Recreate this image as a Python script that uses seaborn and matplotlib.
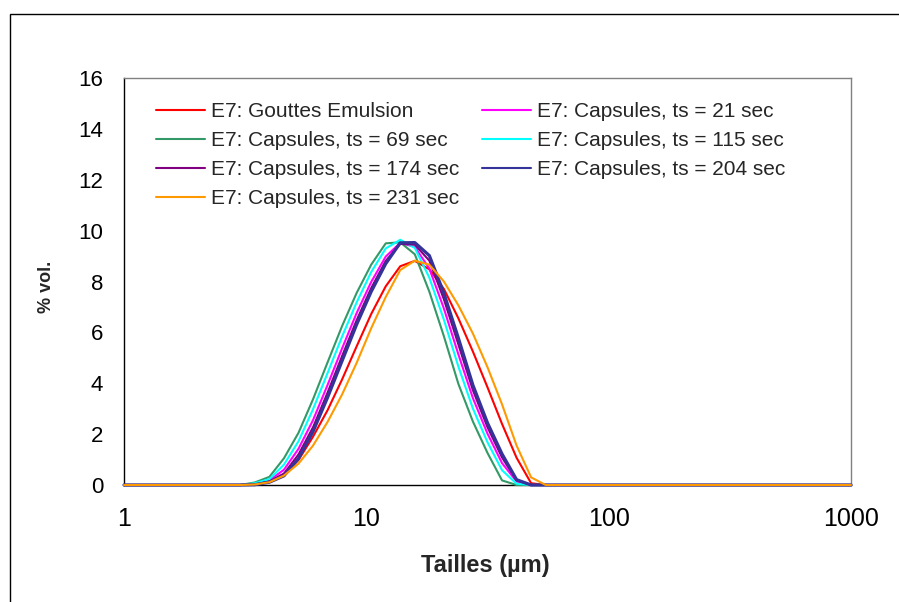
import numpy as np
import pandas as pd
import matplotlib
matplotlib.use("Agg")
import matplotlib.pyplot as plt
from matplotlib.patches import Rectangle
from matplotlib.ticker import MultipleLocator, LogLocator, FuncFormatter, NullFormatter
import seaborn as sns

# tailles des classes (µm), pas log de 0.06 decade
tailles = [1.000, 1.148, 1.318, 1.514, 1.738, 1.995, 2.291, 2.630, 3.020, 3.467,
           3.981, 4.571, 5.248, 6.026, 6.918, 7.943, 9.120, 10.471, 12.023, 13.804,
           15.849, 18.197, 20.893, 23.988, 27.542, 31.623, 36.308, 41.687, 47.863, 54.954,
           63.096, 72.444, 83.176, 95.499, 109.648, 125.893, 144.544, 165.959, 190.546, 218.776,
           251.189, 288.403, 331.131, 380.189, 436.516, 501.187, 575.440, 660.693, 758.578, 870.964,
           1000.0]

gouttes = [0, 0, 0, 0, 0, 0, 0, 0, 0, 0.03,
           0.12, 0.42, 0.98, 1.90, 2.94, 4.15, 5.45, 6.72, 7.81, 8.60,
           8.81, 8.48, 7.71, 6.55, 5.24, 3.84, 2.40, 1.07, 0.07, 0,
           0, 0, 0, 0, 0, 0, 0, 0, 0, 0,
           0, 0, 0, 0, 0, 0, 0, 0, 0, 0,
           0]
caps_21 = [0, 0, 0, 0, 0, 0, 0, 0, 0, 0.04,
           0.18, 0.60, 1.42, 2.55, 3.93, 5.37, 6.76, 7.98, 8.98, 9.52,
           9.36, 8.51, 6.94, 5.13, 3.41, 2.02, 0.86, 0.14, 0, 0,
           0, 0, 0, 0, 0, 0, 0, 0, 0, 0,
           0, 0, 0, 0, 0, 0, 0, 0, 0, 0,
           0]
caps_69 = [0, 0, 0, 0, 0, 0, 0, 0, 0, 0.10,
           0.32, 1.05, 2.05, 3.37, 4.82, 6.25, 7.55, 8.66, 9.50, 9.54,
           9.07, 7.60, 5.85, 3.97, 2.49, 1.26, 0.18, 0, 0, 0,
           0, 0, 0, 0, 0, 0, 0, 0, 0, 0,
           0, 0, 0, 0, 0, 0, 0, 0, 0, 0,
           0]
caps_115 = [0, 0, 0, 0, 0, 0, 0, 0, 0, 0.07,
            0.23, 0.80, 1.72, 2.98, 4.40, 5.84, 7.18, 8.37, 9.30, 9.64,
            9.32, 8.15, 6.50, 4.65, 3.00, 1.68, 0.58, 0.05, 0, 0,
            0, 0, 0, 0, 0, 0, 0, 0, 0, 0,
            0, 0, 0, 0, 0, 0, 0, 0, 0, 0,
            0]
caps_174 = [0, 0, 0, 0, 0, 0, 0, 0, 0, 0.02,
            0.14, 0.45, 1.20, 2.27, 3.63, 5.07, 6.48, 7.74, 8.81, 9.48,
            9.45, 8.82, 7.30, 5.52, 3.72, 2.27, 1.08, 0.18, 0, 0,
            0, 0, 0, 0, 0, 0, 0, 0, 0, 0,
            0, 0, 0, 0, 0, 0, 0, 0, 0, 0,
            0]
caps_204 = [0, 0, 0, 0, 0, 0, 0, 0, 0, 0.01,
            0.11, 0.36, 1.04, 2.10, 3.44, 4.88, 6.31, 7.60, 8.70, 9.52,
            9.53, 9.02, 7.54, 5.77, 3.92, 2.44, 1.22, 0.21, 0, 0,
            0, 0, 0, 0, 0, 0, 0, 0, 0, 0,
            0, 0, 0, 0, 0, 0, 0, 0, 0, 0,
            0]
caps_231 = [0, 0, 0, 0, 0, 0, 0, 0, 0, 0.02,
            0.11, 0.37, 0.84, 1.55, 2.48, 3.56, 4.80, 6.16, 7.39, 8.45,
            8.82, 8.66, 8.00, 7.06, 5.95, 4.63, 3.17, 1.55, 0.30, 0,
            0, 0, 0, 0, 0, 0, 0, 0, 0, 0,
            0, 0, 0, 0, 0, 0, 0, 0, 0, 0,
            0]

noms = ["E7: Gouttes Emulsion", "E7: Capsules, ts = 21 sec", "E7: Capsules, ts = 69 sec",
        "E7: Capsules, ts = 115 sec", "E7: Capsules, ts = 174 sec", "E7: Capsules, ts = 204 sec",
        "E7: Capsules, ts = 231 sec"]
series = [gouttes, caps_21, caps_69, caps_115, caps_174, caps_204, caps_231]
couleurs = ["#FF0000", "#FF00FF", "#339966", "#00FFFF", "#800080", "#333399", "#FF9900"]
epaisseurs = [1.5, 1.5, 1.5, 1.5, 1.5, 2.3, 1.5]

df = pd.DataFrame({"taille": np.tile(tailles, len(series)),
                   "vol": np.concatenate(series),
                   "serie": np.repeat(noms, len(tailles))})

sns.set_style("white")
plt.rcParams['font.family'] = ['Liberation Sans', 'DejaVu Sans']

fig = plt.figure(figsize=(8.99, 6.02), dpi=100)
ax = fig.add_axes([124/899, 1-485/602, 727/899, 407/602])

# cadre exterieur (coupe a droite et en bas)
fig.add_artist(Rectangle((10/899, -0.2), 1.5, (1-14/602)+0.2, transform=fig.transFigure,
                         fill=False, ec='black', lw=1.0))

lignes = {}
for nom, c, lw in zip(noms, couleurs, epaisseurs):
    d = df[df.serie == nom]
    sns.lineplot(data=d, x="taille", y="vol", color=c, lw=lw, ax=ax, label=nom,
                 sort=False, zorder=3, clip_on=False)
    lignes[nom] = ax.lines[-1]

ax.set_xscale('log')
ax.set_xlim(1, 1000)
ax.set_ylim(0, 16)
ax.yaxis.set_major_locator(MultipleLocator(2))
ax.yaxis.set_minor_locator(MultipleLocator(0.5))
ax.xaxis.set_major_locator(LogLocator(base=10))
ax.xaxis.set_minor_locator(LogLocator(base=10, subs=np.arange(2, 10)))
ax.xaxis.set_major_formatter(FuncFormatter(lambda v, p: f'{v:g}'))
ax.xaxis.set_minor_formatter(NullFormatter())

ax.tick_params(axis='both', which='both', direction='out', colors='black', width=1)
ax.tick_params(axis='both', which='major', length=6)
ax.tick_params(axis='both', which='minor', length=4)
ax.tick_params(axis='x', which='major', labelsize=18, pad=10)
ax.tick_params(axis='y', which='major', labelsize=16, pad=9)

for s in ['left', 'bottom']:
    ax.spines[s].set_color('black')
    ax.spines[s].set_linewidth(1.0)
for s in ['top', 'right']:
    ax.spines[s].set_color('#808080')
    ax.spines[s].set_linewidth(1.0)

ax.set_xlabel('Tailles (µm)', fontsize=17, fontweight='bold', va='center')
ax.xaxis.set_label_coords(0.497, -0.197)
ax.set_ylabel('% vol.', fontsize=13, fontweight='bold', va='center')
ax.yaxis.set_label_coords(-0.106, 0.486)

# legende : remplissage par lignes comme dans Excel
ordre = [0, 2, 4, 6, 1, 3, 5]
handles = [lignes[noms[i]] for i in ordre]
leg = ax.legend(handles, [noms[i] for i in ordre], ncol=2, frameon=False, fontsize=15,
                handlelength=2.36, handletextpad=0.29, columnspacing=1.06, labelspacing=0.47,
                borderpad=0, borderaxespad=0, loc='upper left', bbox_to_anchor=(0.044, 0.940))
for l in leg.get_lines():
    l.set_linewidth(1.5)

fig.savefig('out.png', dpi=100)
